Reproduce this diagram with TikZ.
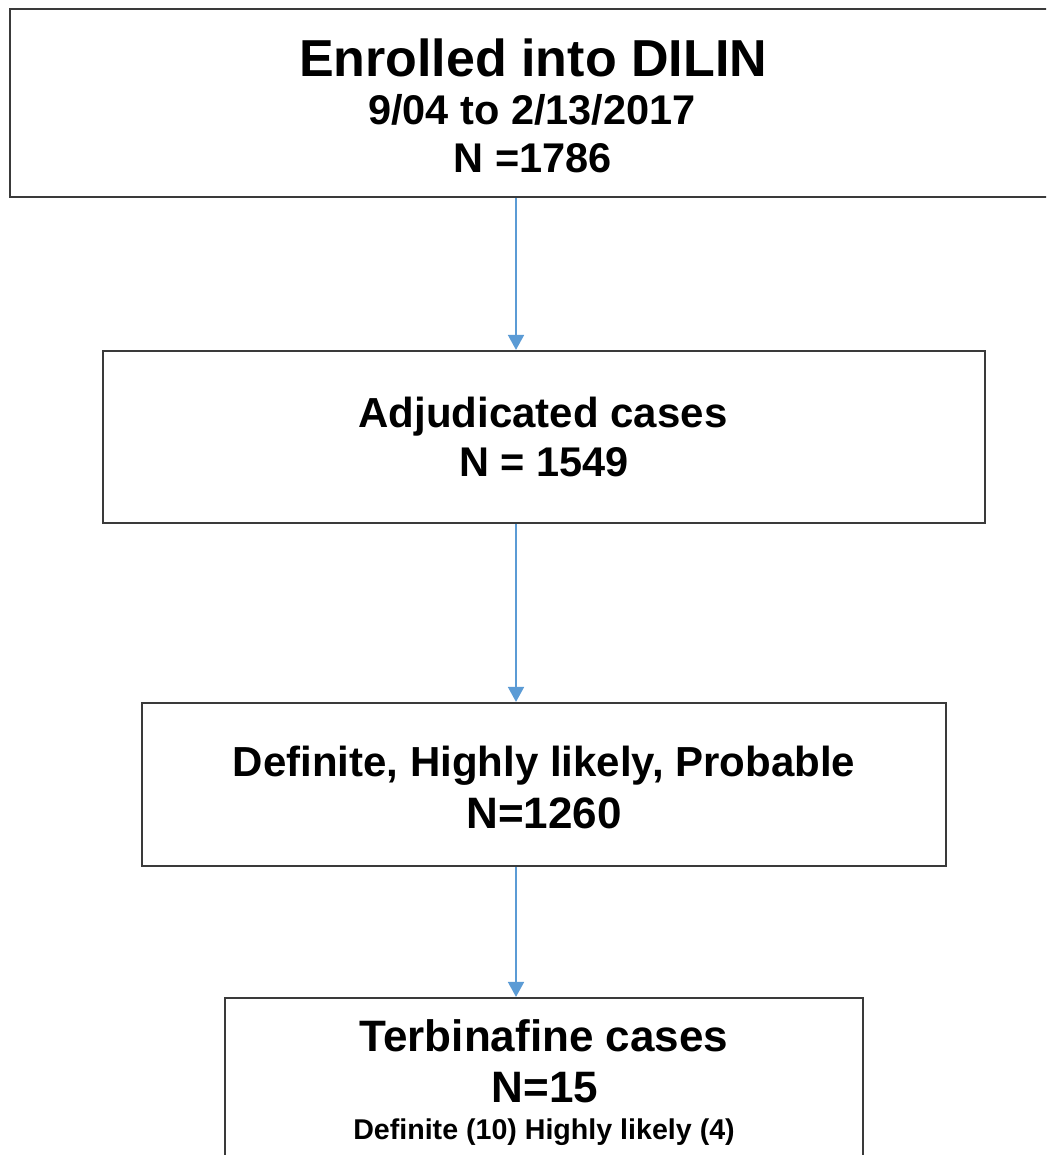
\documentclass[tikz,border=0pt]{standalone}
\usepackage{fontspec}
\setmainfont{Liberation Sans}
\usetikzlibrary{arrows.meta}
\definecolor{arrowblue}{HTML}{5B9BD5}
\definecolor{boxline}{HTML}{3A3A3A}
\tikzset{
  box/.style={draw=boxline, line width=2.2pt, rectangle, inner sep=0pt},
  txt/.style={anchor=base, inner sep=0pt, font=\bfseries},
  arr/.style={draw=arrowblue, line width=1.8pt, -{Triangle[width=16pt,length=15pt]}}
}
\begin{document}
\begin{tikzpicture}[x=1pt,y=-1pt]
\useasboundingbox (0,0) rectangle (1046,1155);
\clip (0,0) rectangle (1046,1155);
\fill[white] (0,0) rectangle (1046,1155);
% boxes
\node[box, minimum width=1046pt, minimum height=188pt] (b1) at (533,103) {};
\node[box, minimum width=882pt, minimum height=172pt] (b2) at (544,437) {};
\node[box, minimum width=804pt, minimum height=163pt] (b3) at (544,784.5) {};
\node[box, minimum width=638pt, minimum height=180pt] (b4) at (544,1088) {};
% texts
\node[txt, font=\bfseries\fontsize{52}{60}\selectfont] (t1a) at (533,77) {Enrolled into DILIN};
\node[txt, font=\bfseries\fontsize{41.5}{48}\selectfont] (t1b) at (532,125) {9/04 to 2/13/2017};
\node[txt, font=\bfseries\fontsize{41.5}{48}\selectfont] (t1c) at (533,173) {N =1786};
\node[txt, font=\bfseries\fontsize{42}{48}\selectfont] (t2a) at (543,427) {Adjudicated cases};
\node[txt, font=\bfseries\fontsize{41.5}{48}\selectfont] (t2b) at (544,476) {N = 1549};
\node[txt, font=\bfseries\fontsize{42}{48}\selectfont] (t3a) at (544,776) {Definite, Highly likely, Probable};
\node[txt, font=\bfseries\fontsize{44}{50}\selectfont] (t3b) at (544,828) {N=1260};
\node[txt, font=\bfseries\fontsize{44}{50}\selectfont] (t4a) at (544,1051) {Terbinafine cases};
\node[txt, font=\bfseries\fontsize{44}{50}\selectfont] (t4b) at (545,1102) {N=15};
\node[txt, font=\bfseries\fontsize{28.6}{34}\selectfont] (t4c) at (544,1139) {Definite (10) Highly likely (4)};
% connectors
\coordinate (ax) at (516,0);
\draw[arr] (b1.south -| ax) -- (b2.north -| ax);
\draw[arr] (b2.south -| ax) -- (b3.north -| ax);
\draw[arr] (b3.south -| ax) -- (b4.north -| ax);
\end{tikzpicture}
\end{document}
